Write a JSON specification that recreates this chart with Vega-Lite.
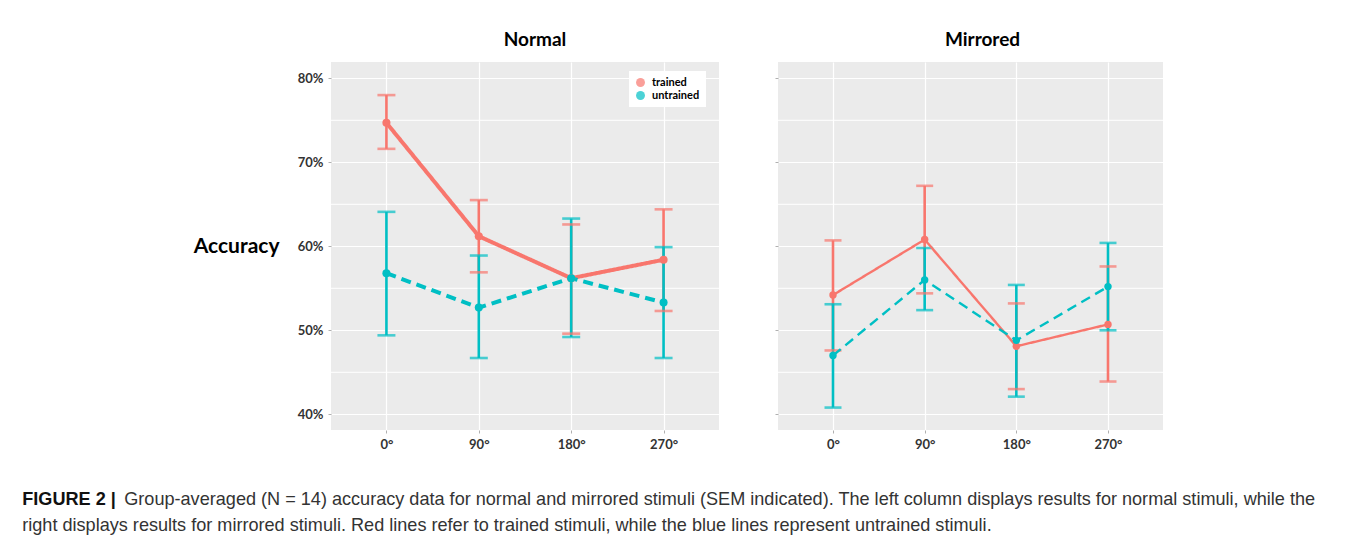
{
  "$schema": "https://vega.github.io/schema/vega-lite/v6.json",
  "background": "white",
  "padding": {"left": 22, "top": 31, "right": 5, "bottom": 5},
  "datasets": {
    "stats": [
      {"panel": "Normal", "angle": "0°", "group": "trained", "mean": 74.7, "lo": 71.6, "hi": 78.0},
      {"panel": "Normal", "angle": "90°", "group": "trained", "mean": 61.2, "lo": 56.9, "hi": 65.5},
      {"panel": "Normal", "angle": "180°", "group": "trained", "mean": 56.2, "lo": 49.6, "hi": 62.6},
      {"panel": "Normal", "angle": "270°", "group": "trained", "mean": 58.4, "lo": 52.3, "hi": 64.4},
      {"panel": "Normal", "angle": "0°", "group": "untrained", "mean": 56.8, "lo": 49.4, "hi": 64.1},
      {"panel": "Normal", "angle": "90°", "group": "untrained", "mean": 52.7, "lo": 46.7, "hi": 58.9},
      {"panel": "Normal", "angle": "180°", "group": "untrained", "mean": 56.2, "lo": 49.2, "hi": 63.3},
      {"panel": "Normal", "angle": "270°", "group": "untrained", "mean": 53.3, "lo": 46.7, "hi": 59.9},
      {"panel": "Mirrored", "angle": "0°", "group": "trained", "mean": 54.2, "lo": 47.6, "hi": 60.7},
      {"panel": "Mirrored", "angle": "90°", "group": "trained", "mean": 60.8, "lo": 54.4, "hi": 67.2},
      {"panel": "Mirrored", "angle": "180°", "group": "trained", "mean": 48.1, "lo": 43.0, "hi": 53.2},
      {"panel": "Mirrored", "angle": "270°", "group": "trained", "mean": 50.7, "lo": 43.9, "hi": 57.6},
      {"panel": "Mirrored", "angle": "0°", "group": "untrained", "mean": 47.0, "lo": 40.8, "hi": 53.1},
      {"panel": "Mirrored", "angle": "90°", "group": "untrained", "mean": 56.0, "lo": 52.4, "hi": 59.8},
      {"panel": "Mirrored", "angle": "180°", "group": "untrained", "mean": 48.8, "lo": 42.1, "hi": 55.4},
      {"panel": "Mirrored", "angle": "270°", "group": "untrained", "mean": 55.2, "lo": 50.0, "hi": 60.4}
    ],
    "minor": [{"v": 45}, {"v": 55}, {"v": 65}, {"v": 75}]
  },
  "title": {
    "text": "FIGURE 2 |",
    "orient": "bottom", "anchor": "start", "frame": "bounds", "dx": 0, "offset": -44, "baseline": "top",
    "font": "Liberation Sans", "fontSize": 18.1, "fontWeight": "bold", "color": "#111111"
  },
  "vconcat": [
    {
      "title": {
        "text": "right displays results for mirrored stimuli. Red lines refer to trained stimuli, while the blue lines represent untrained stimuli.",
        "orient": "bottom", "anchor": "start", "frame": "bounds", "dx": -102, "offset": 8, "baseline": "top",
        "font": "Liberation Sans", "fontSize": 18.1, "fontWeight": "normal", "color": "#333333"
      },
      "vconcat": [
        {
          "title": {
            "text": "Group-averaged (N = 14) accuracy data for normal and mirrored stimuli (SEM indicated). The left column displays results for normal stimuli, while the",
            "orient": "bottom", "anchor": "start", "frame": "bounds", "dx": -69, "offset": 40, "baseline": "top",
            "font": "Liberation Sans", "fontSize": 18.1, "fontWeight": "normal", "color": "#333333"
          },
          "spacing": 54,
          "hconcat": [
            {
              "width": 388,
              "height": 368,
              "title": {"text": "Normal", "frame": "group", "dx": 10},
              "layer": [
                {
                  "data": {"name": "minor"},
                  "mark": {"type": "rule", "color": "white", "strokeWidth": 1},
                  "encoding": {
                    "y": {"field": "v", "type": "quantitative", "scale": {"domain": [38.13, 81.94], "nice": false, "zero": false},
                      "axis": {"values": [40, 50, 60, 70, 80], "labelExpr": "datum.value + '%'", "title": "Accuracy", "titleAngle": 0, "titleAlign": "right", "titleBaseline": "middle", "titleX": -52, "titleY": 184, "titleFont": "Lato", "titleFontSize": 21, "titleFontWeight": "bold", "titleColor": "black"}}
                  }
                },
                {
                  "data": {"name": "stats"},
                  "transform": [{"filter": "datum.panel === 'Normal'"}],
                  "encoding": {
                    "x": {"field": "angle", "type": "ordinal", "scale": {"type": "point", "domain": ["0°", "90°", "180°", "270°"], "padding": 0.6}, "axis": {"title": null, "labelAngle": 0, "grid": true}},
                    "color": {"field": "group", "type": "nominal", "scale": {"domain": ["trained", "untrained"], "range": ["#F8766D", "#00BFC4"]},
                      "legend": {"title": null, "orient": "none", "legendX": 298, "legendY": 9, "padding": 6, "fillColor": "white", "symbolType": "circle", "symbolSize": 80, "symbolStrokeWidth": 0, "labelFont": "Lato", "labelFontWeight": "bold", "labelFontSize": 11, "labelColor": "black", "rowPadding": 1, "labelOffset": 6}}
                  },
                  "layer": [
                    {"mark": {"type": "rule", "strokeWidth": 2.6}, "encoding": {"y": {"field": "lo", "type": "quantitative", "axis": {"values": [40, 50, 60, 70, 80], "labelExpr": "datum.value + '%'", "title": "Accuracy", "titleAngle": 0, "titleAlign": "right", "titleBaseline": "middle", "titleX": -52, "titleY": 184, "titleFont": "Lato", "titleFontSize": 21, "titleFontWeight": "bold", "titleColor": "black"}}, "y2": {"field": "hi"}}},
                    {"mark": {"type": "tick", "thickness": 2.6, "size": 18}, "encoding": {"y": {"field": "lo", "type": "quantitative", "axis": {"values": [40, 50, 60, 70, 80], "labelExpr": "datum.value + '%'", "title": "Accuracy", "titleAngle": 0, "titleAlign": "right", "titleBaseline": "middle", "titleX": -52, "titleY": 184, "titleFont": "Lato", "titleFontSize": 21, "titleFontWeight": "bold", "titleColor": "black"}}}},
                    {"mark": {"type": "tick", "thickness": 2.6, "size": 18}, "encoding": {"y": {"field": "hi", "type": "quantitative", "axis": {"values": [40, 50, 60, 70, 80], "labelExpr": "datum.value + '%'", "title": "Accuracy", "titleAngle": 0, "titleAlign": "right", "titleBaseline": "middle", "titleX": -52, "titleY": 184, "titleFont": "Lato", "titleFontSize": 21, "titleFontWeight": "bold", "titleColor": "black"}}}},
                    {"mark": {"type": "line", "strokeWidth": 4}, "encoding": {"y": {"field": "mean", "type": "quantitative", "axis": {"values": [40, 50, 60, 70, 80], "labelExpr": "datum.value + '%'", "title": "Accuracy", "titleAngle": 0, "titleAlign": "right", "titleBaseline": "middle", "titleX": -52, "titleY": 184, "titleFont": "Lato", "titleFontSize": 21, "titleFontWeight": "bold", "titleColor": "black"}},
                      "strokeDash": {"field": "group", "type": "nominal", "scale": {"domain": ["trained", "untrained"], "range": [[1, 0], [10, 6]]}, "legend": null}}},
                    {"mark": {"type": "point", "filled": true, "size": 65, "opacity": 1}, "encoding": {"y": {"field": "mean", "type": "quantitative", "axis": {"values": [40, 50, 60, 70, 80], "labelExpr": "datum.value + '%'", "title": "Accuracy", "titleAngle": 0, "titleAlign": "right", "titleBaseline": "middle", "titleX": -52, "titleY": 184, "titleFont": "Lato", "titleFontSize": 21, "titleFontWeight": "bold", "titleColor": "black"}}}}
                  ]
                }
              ]
            },
            {
              "width": 385,
              "height": 368,
              "title": {"text": "Mirrored", "frame": "group", "dx": 12},
              "layer": [
                {
                  "data": {"name": "minor"},
                  "mark": {"type": "rule", "color": "white", "strokeWidth": 1},
                  "encoding": {
                    "y": {"field": "v", "type": "quantitative", "scale": {"domain": [38.13, 81.94], "nice": false, "zero": false},
                      "axis": {"values": [40, 50, 60, 70, 80], "labels": false, "title": null}}
                  }
                },
                {
                  "data": {"name": "stats"},
                  "transform": [{"filter": "datum.panel === 'Mirrored'"}],
                  "encoding": {
                    "x": {"field": "angle", "type": "ordinal", "scale": {"type": "point", "domain": ["0°", "90°", "180°", "270°"], "padding": 0.6}, "axis": {"title": null, "labelAngle": 0, "grid": true}},
                    "color": {"field": "group", "type": "nominal", "scale": {"domain": ["trained", "untrained"], "range": ["#F8766D", "#00BFC4"]}, "legend": null}
                  },
                  "layer": [
                    {"mark": {"type": "rule", "strokeWidth": 2.6}, "encoding": {"y": {"field": "lo", "type": "quantitative", "axis": {"values": [40, 50, 60, 70, 80], "labels": false, "title": null}}, "y2": {"field": "hi"}}},
                    {"mark": {"type": "tick", "thickness": 2.6, "size": 17}, "encoding": {"y": {"field": "lo", "type": "quantitative", "axis": {"values": [40, 50, 60, 70, 80], "labels": false, "title": null}}}},
                    {"mark": {"type": "tick", "thickness": 2.6, "size": 17}, "encoding": {"y": {"field": "hi", "type": "quantitative", "axis": {"values": [40, 50, 60, 70, 80], "labels": false, "title": null}}}},
                    {"mark": {"type": "line", "strokeWidth": 2.4}, "encoding": {"y": {"field": "mean", "type": "quantitative", "axis": {"values": [40, 50, 60, 70, 80], "labels": false, "title": null}},
                      "strokeDash": {"field": "group", "type": "nominal", "scale": {"domain": ["trained", "untrained"], "range": [[1, 0], [5, 4]]}, "legend": null}}},
                    {"mark": {"type": "point", "filled": true, "size": 55, "opacity": 1}, "encoding": {"y": {"field": "mean", "type": "quantitative", "axis": {"values": [40, 50, 60, 70, 80], "labels": false, "title": null}}}}
                  ]
                }
              ]
            }
          ]
        }
      ]
    }
  ],
  "config": {
    "view": {"fill": "#EBEBEB", "stroke": null},
    "axis": {"domain": false, "gridColor": "white", "gridWidth": 1.2, "tickColor": "#B0B0B0", "tickSize": 3, "labelFont": "Lato", "labelFontWeight": "bold", "labelFontSize": 13, "labelColor": "#333333", "labelPadding": 5},
    "title": {"font": "Lato", "fontSize": 19, "fontWeight": "bold", "color": "black", "offset": 12}
  }
}
